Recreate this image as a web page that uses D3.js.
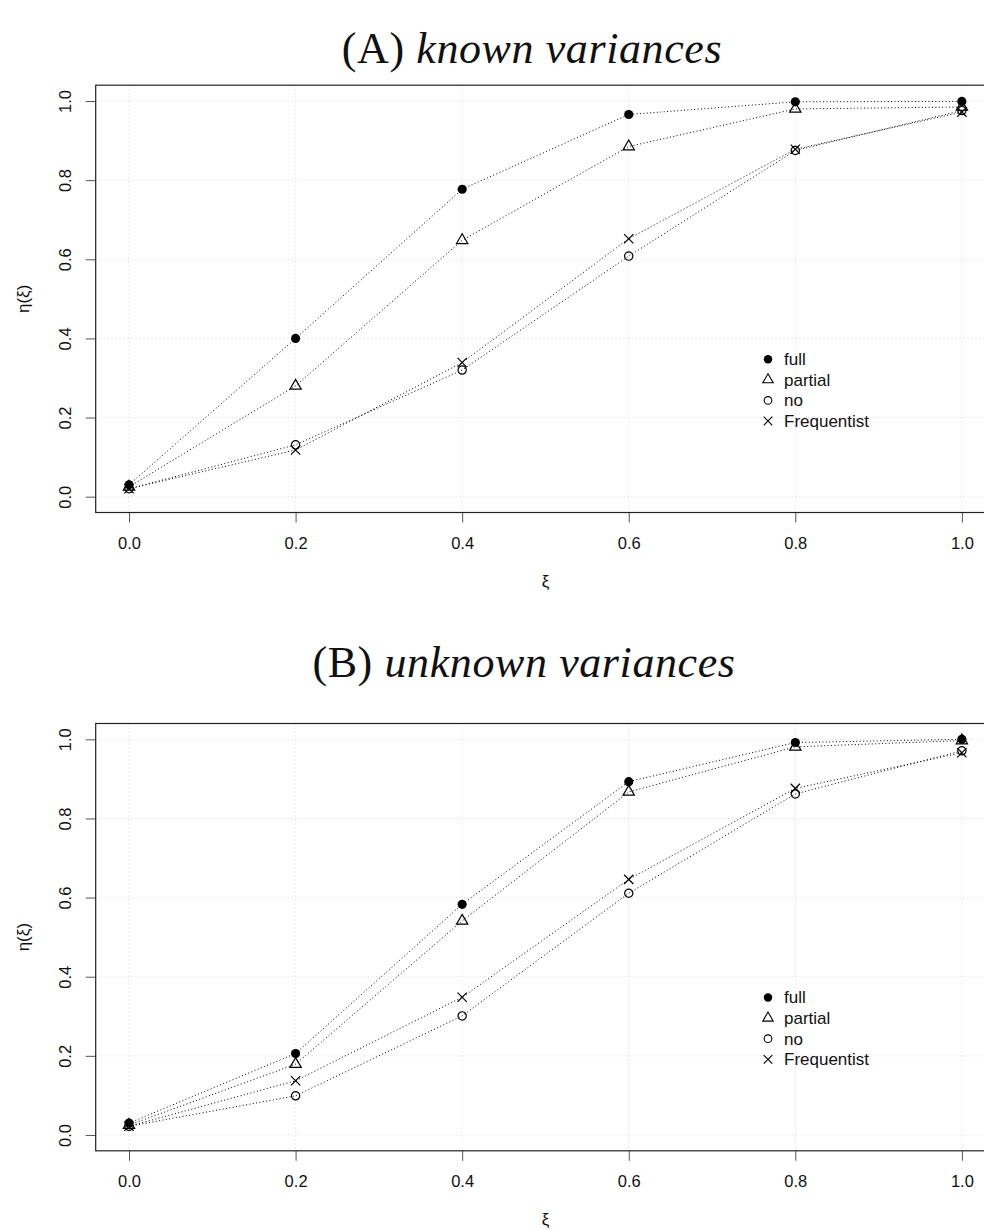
<!DOCTYPE html>
<html>
<head>
<meta charset="utf-8">
<script src="https://cdn.jsdelivr.net/npm/d3@7"></script>
<style>
  body { margin: 0; background: #fff; }
  svg text { font-family: "Liberation Sans", Arial, sans-serif; }
</style>
</head>
<body>
<div id="chart"></div>
<script>
// x values shared by both panels
const xi = [0, 0.2, 0.4, 0.6, 0.8, 1.0];

// (A) known variances
const knownFull    = [0.030, 0.400, 0.777, 0.966, 0.998, 0.999];
const knownPartial = [0.025, 0.280, 0.648, 0.885, 0.980, 0.985];
const knownNo      = [0.020, 0.131, 0.320, 0.608, 0.875, 0.976];
const knownFreq    = [0.020, 0.118, 0.339, 0.652, 0.878, 0.972];

// (B) unknown variances
const unknownFull    = [0.030, 0.206, 0.583, 0.893, 0.992, 1.000];
const unknownPartial = [0.025, 0.179, 0.541, 0.867, 0.981, 0.997];
const unknownNo      = [0.022, 0.099, 0.301, 0.611, 0.862, 0.971];
const unknownFreq    = [0.022, 0.137, 0.348, 0.646, 0.876, 0.966];

const seriesNames = ["full", "partial", "no", "Frequentist"];
const ticks = [0, 0.2, 0.4, 0.6, 0.8, 1.0];

const width = 984, height = 1230;

const svg = d3.select("#chart")
  .append("svg")
    .attr("width", width)
    .attr("height", height);

// R style: 4% padding round the data range
const lim = [-0.04, 1.04];
const left = 95.7, right = 995.2;

const x = d3.scaleLinear().domain(lim).range([left, right]);

// symbol for each series (pch 19, 2, 1, 4)
const symbols = [
  {type: d3.symbolCircle, size: 66, fill: "#000", stroke: "none"},
  {type: d3.symbolTriangle2, size: 92, fill: "none", stroke: "#000"},
  {type: d3.symbolCircle, size: 54, fill: "none", stroke: "#000"},
  {type: d3.symbolTimes, size: 58, fill: "none", stroke: "#000"}
];

function drawPanel(top, bottom, title, titleX, titleY, series) {
  const y = d3.scaleLinear().domain(lim).range([bottom, top]);
  const g = svg.append("g");

  // grid, dotted light gray
  g.append("g")
    .selectAll("line")
    .data(ticks)
    .join("line")
      .attr("x1", d => x(d)).attr("x2", d => x(d))
      .attr("y1", top).attr("y2", bottom)
      .attr("stroke", "#d3d3d3")
      .attr("stroke-dasharray", "1,3");
  g.append("g")
    .selectAll("line")
    .data(ticks)
    .join("line")
      .attr("x1", left).attr("x2", right)
      .attr("y1", d => y(d)).attr("y2", d => y(d))
      .attr("stroke", "#d3d3d3")
      .attr("stroke-dasharray", "1,3");

  // axes
  const xAxis = g.append("g")
    .attr("transform", `translate(0,${bottom})`)
    .call(d3.axisBottom(x).tickValues(ticks).tickFormat(d3.format(".1f")).tickSize(10));
  xAxis.select(".domain").remove();
  xAxis.selectAll(".tick line").attr("stroke", "#555");
  xAxis.selectAll(".tick text")
    .attr("y", 30.5)
    .attr("dy", "0.35em")
    .attr("fill", "#111")
    .style("font-size", "16.5px");

  const yAxis = g.append("g")
    .attr("transform", `translate(${left},0)`)
    .call(d3.axisLeft(y).tickValues(ticks).tickFormat(d3.format(".1f")).tickSize(10));
  yAxis.select(".domain").remove();
  yAxis.selectAll(".tick line").attr("stroke", "#555");
  yAxis.selectAll(".tick text")
    .attr("x", 0)
    .attr("dy", null)
    .attr("transform", "translate(-30.7,0) rotate(-90)")
    .attr("text-anchor", "middle")
    .attr("dominant-baseline", "central")
    .attr("fill", "#111")
    .style("font-size", "16.5px");

  // box
  g.append("rect")
    .attr("x", left).attr("y", top)
    .attr("width", right - left).attr("height", bottom - top)
    .attr("fill", "none")
    .attr("stroke", "#222")
    .attr("stroke-width", 1.2);

  // lines (lty 3) and points
  const line = d3.line().x((d, i) => x(xi[i])).y(d => y(d));
  series.forEach((vals, s) => {
    g.append("path")
      .attr("d", line(vals))
      .attr("fill", "none")
      .attr("stroke", "#000")
      .attr("stroke-width", 1)
      .attr("stroke-dasharray", "1,2.4");
  });
  series.forEach((vals, s) => {
    const sym = symbols[s];
    g.append("g")
      .selectAll("path")
      .data(vals)
      .join("path")
        .attr("transform", (d, i) => `translate(${x(xi[i])},${y(d)})`)
        .attr("d", d3.symbol().type(sym.type).size(sym.size))
        .attr("fill", sym.fill)
        .attr("stroke", sym.stroke)
        .attr("stroke-width", 1.2);
  });

  // legend
  const leg = g.append("g")
    .selectAll("g")
    .data(seriesNames)
    .join("g")
      .attr("transform", (d, i) => `translate(768,${top + 274 + i * 20.6})`);
  leg.append("path")
    .attr("d", (d, i) => d3.symbol().type(symbols[i].type).size(symbols[i].size * 0.85)())
    .attr("fill", (d, i) => symbols[i].fill)
    .attr("stroke", (d, i) => symbols[i].stroke)
    .attr("stroke-width", 1.1);
  leg.append("text")
    .attr("x", 16)
    .attr("dy", "0.35em")
    .attr("fill", "#111")
    .style("font-size", "17px")
    .text(d => d);

  // axis titles
  g.append("text")
    .attr("x", (left + right) / 2)
    .attr("y", bottom + 69)
    .attr("text-anchor", "middle")
    .attr("dominant-baseline", "central")
    .style("font-size", "17px")
    .attr("fill", "#111")
    .text("ξ");
  g.append("text")
    .attr("transform", `translate(23,${(top + bottom) / 2}) rotate(-90)`)
    .attr("text-anchor", "middle")
    .attr("dominant-baseline", "central")
    .style("font-size", "17px")
    .attr("fill", "#111")
    .text("η(ξ)");

  // title: label upright, rest italic
  const t = g.append("text")
    .attr("x", titleX)
    .attr("y", titleY)
    .attr("text-anchor", "middle")
    .style("font-family", "'Liberation Serif', 'DejaVu Serif', serif")
    .style("font-size", "44px")
    .style("letter-spacing", "0.6px")
    .attr("fill", "#111");
  t.append("tspan").text(title[0] + " ");
  t.append("tspan").style("font-style", "italic").text(title[1]);
}

drawPanel(85.2, 512.5, ["(A)", "known variances"], 532, 63,
  [knownFull, knownPartial, knownNo, knownFreq]);
drawPanel(723.5, 1150.8, ["(B)", "unknown variances"], 524, 677,
  [unknownFull, unknownPartial, unknownNo, unknownFreq]);
</script>
</body>
</html>
